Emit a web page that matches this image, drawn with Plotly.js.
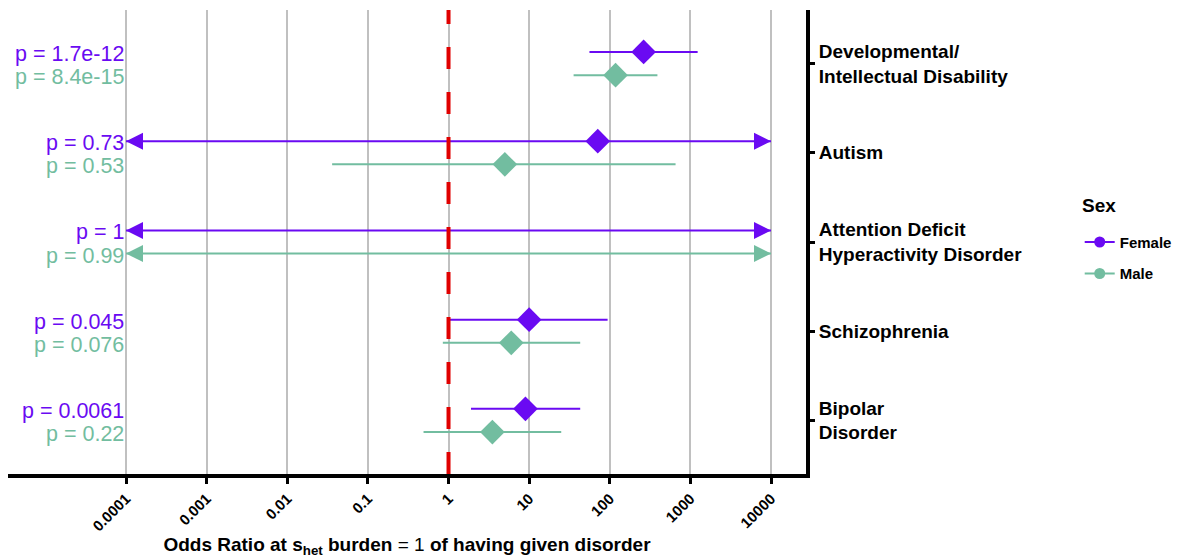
<!DOCTYPE html>
<html>
<head>
<meta charset="utf-8">
<script src="https://cdn.plot.ly/plotly-3.0.1.min.js"></script>
<style>html,body{margin:0;padding:0;background:#fff;}#chart{width:1190px;height:558px;}</style>
</head>
<body>
<div id="chart"></div>
<script>
// ---- data ----
const categories = ["Developmental/<br>Intellectual Disability", "Autism", "Attention Deficit<br>Hyperactivity Disorder", "Schizophrenia", "Bipolar<br>Disorder"];
const catPos = [5, 4, 3, 2, 1];
const femaleOR = [263, 71, null, 10, 9.0];
const femaleLo = [56, 1e-5, 1e-5, 1.0, 1.9];
const femaleHi = [1230, 1e5, 1e5, 94, 43];
const maleOR = [118, 5.0, null, 6.0, 3.5];
const maleLo = [35.6, 0.036, 1e-5, 0.85, 0.49];
const maleHi = [390, 655, 1e5, 43, 25];
const femaleP = ["1.7e-12", "0.73", "1", "0.045", "0.0061"];
const maleP = ["8.4e-15", "0.53", "0.99", "0.076", "0.22"];
const tickVals = [1e-4, 1e-3, 1e-2, 1e-1, 1, 10, 100, 1000, 10000];
const tickText = ["0.0001", "0.001", "0.01", "0.1", "1", "10", "100", "1000", "10000"];
const clipMin = 1e-4, clipMax = 1e4;
const refOR = 1;
const legendTitle = "Sex";

// ---- styles ----
const FEMALE = "#6a0af2";
const MALE = "#72bda0";
const DODGE = 0.13;
const FONT = "Liberation Sans, Arial, sans-serif";

function seriesTraces(name, color, orv, lo, hi, sign) {
  const lx = [], ly = [], ax = [], ay = [], asym = [];
  for (let i = 0; i < catPos.length; i++) {
    const y = catPos[i] + sign * DODGE;
    const l = Math.max(lo[i], clipMin), h = Math.min(hi[i], clipMax);
    lx.push(l, h, null); ly.push(y, y, null);
    if (lo[i] < clipMin) { ax.push(clipMin); ay.push(y); asym.push("arrow-left"); }
    if (hi[i] > clipMax) { ax.push(clipMax); ay.push(y); asym.push("arrow-right"); }
  }
  return [
    {x: lx, y: ly, mode: "lines", line: {color: color, width: 2}, showlegend: false, hoverinfo: "skip"},
    {x: ax, y: ay, mode: "markers", marker: {symbol: asym, size: 17, color: color, line: {width: 0}}, showlegend: false, hoverinfo: "skip"},
    {x: orv, y: catPos.map(p => p + sign * DODGE), mode: "markers", marker: {symbol: "diamond", size: 19, color: color, line: {width: 0}}, showlegend: false, name: name},
    {x: [null], y: [null], mode: "lines+markers", name: "<b>" + name + "</b>", legendgroup: name,
     line: {color: color, width: 2}, marker: {symbol: "circle", size: 11, color: color}, showlegend: true}
  ];
}

const traces = [].concat(
  seriesTraces("Female", FEMALE, femaleOR, femaleLo, femaleHi, 1),
  seriesTraces("Male", MALE, maleOR, maleLo, maleHi, -1)
);

const annotations = [];
for (let i = 0; i < catPos.length; i++) {
  annotations.push({x: Math.log10(clipMin), y: catPos[i] + DODGE, xref: "x", yref: "y", text: "p = " + femaleP[i],
    xanchor: "right", yanchor: "middle", yshift: -2, showarrow: false, font: {family: FONT, size: 21.5, color: FEMALE}});
  annotations.push({x: Math.log10(clipMin), y: catPos[i] - DODGE, xref: "x", yref: "y", text: "p = " + maleP[i],
    xanchor: "right", yanchor: "middle", yshift: -2, showarrow: false, font: {family: FONT, size: 21.5, color: MALE}});
}
annotations.push({xref: "paper", yref: "paper", x: 1.343, y: 0.579, xanchor: "left", yanchor: "middle",
  text: "<b>" + legendTitle + "</b>", showarrow: false, font: {family: FONT, size: 19, color: "#000"}});

const layout = {
  width: 1190, height: 558,
  margin: {l: 8, r: 384, t: 10, b: 84},
  paper_bgcolor: "#fff", plot_bgcolor: "#fff",
  font: {family: FONT, color: "#000"},
  xaxis: {
    type: "log", range: [-5.464, 4.434], autorange: false,
    tickvals: tickVals, ticktext: tickText.map(t => "<b>" + t + "</b>"), tickangle: -45,
    tickfont: {family: FONT, size: 15, color: "#000"},
    showgrid: true, gridcolor: "#c0c0c0", gridwidth: 2, zeroline: false,
    showline: true, linecolor: "#000", linewidth: 4,
    ticks: "outside", ticklen: 6, tickwidth: 3, tickcolor: "#000",
    title: {text: "<b>Odds Ratio at s<sub>het</sub> burden</b> = 1 <b>of having given disorder</b>", font: {family: FONT, size: 19, color: "#000"}, standoff: 7},
    fixedrange: true
  },
  yaxis: {
    side: "right", range: [0.4, 5.6], autorange: false,
    tickvals: catPos, ticktext: categories.map(c => "<b>" + c.replace("<br>", "</b><br><b>") + "</b>"),
    tickfont: {family: FONT, size: 19, color: "#000"},
    showgrid: false, zeroline: false,
    showline: true, linecolor: "#000", linewidth: 4,
    ticks: "outside", ticklen: 5, tickwidth: 3, tickcolor: "#000",
    fixedrange: true
  },
  shapes: [{type: "line", xref: "x", yref: "paper", x0: refOR, x1: refOR, y0: 0, y1: 1,
    line: {color: "#e00000", width: 4, dash: "22px,23px"}, layer: "above"}],
  annotations: annotations,
  legend: {x: 1.343, xanchor: "left", y: 0.535, yanchor: "top",
    font: {family: FONT, size: 15, color: "#000"}, tracegroupgap: 9, bgcolor: "rgba(0,0,0,0)"},
  showlegend: true
};

Plotly.newPlot("chart", traces, layout, {displayModeBar: false, staticPlot: true});
</script>
</body>
</html>
